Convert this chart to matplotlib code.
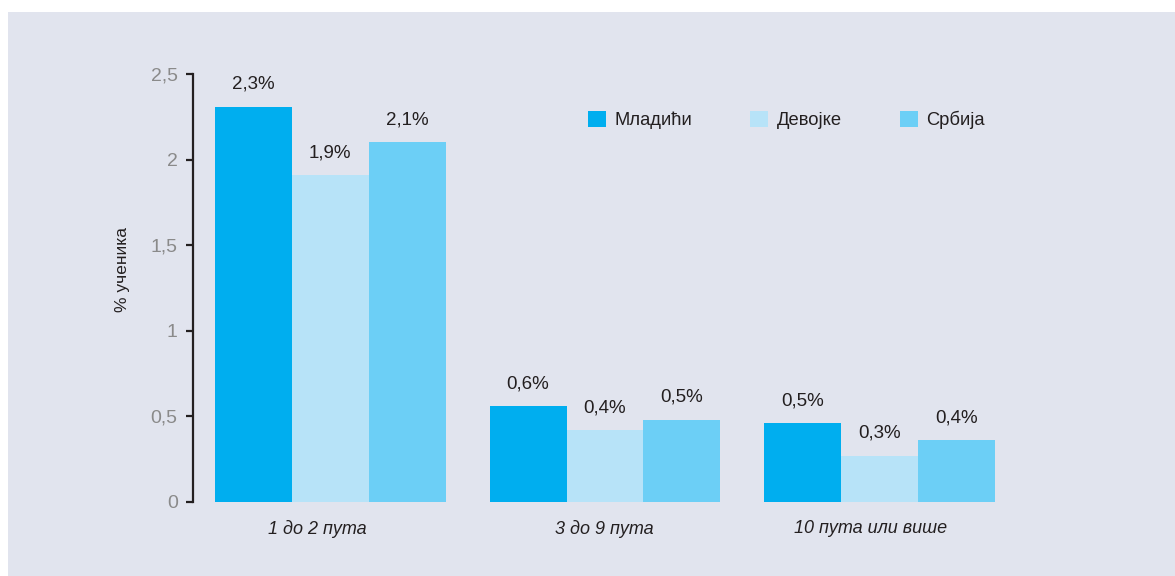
import matplotlib.pyplot as plt
import numpy as np
from matplotlib.patches import Rectangle

plt.rcParams['font.family'] = ['Liberation Sans', 'DejaVu Sans']

categories = ['1 до 2 пута', '3 до 9 пута', '10 пута или више']
series = ['Младићи', 'Девојке', 'Србија']
mladici = [2.31, 0.56, 0.46]
devojke = [1.91, 0.42, 0.27]
srbija = [2.10, 0.48, 0.36]
colors = ['#00AEEF', '#B7E3F8', '#6CCFF6']
yticks = [0, 0.5, 1, 1.5, 2, 2.5]
ytick_labels = ['0', '0,5', '1', '1,5', '2', '2,5']

bg = '#E1E4EE'
dark = '#231F20'

fig = plt.figure(figsize=(11.75, 5.76), dpi=100, facecolor='white')
# shaded panel behind the chart
fig.patches.append(Rectangle((8 / 1175, 0), 1 - 8 / 1175, 1 - 12 / 576,
                             transform=fig.transFigure, facecolor=bg,
                             edgecolor='none', zorder=-10))

ax = fig.add_axes([193 / 1175, 74 / 576, 824 / 1175, 428 / 576])
ax.set_facecolor('none')

x = np.arange(len(categories))
w = 0.28
for i, (vals, name) in enumerate(zip([mladici, devojke, srbija], series)):
    pos = x + (i - 1) * w
    ax.bar(pos, vals, width=w, color=colors[i], label=name, linewidth=0)
    for px, v in zip(pos, vals):
        ax.annotate(f'{v:.1f}%'.replace('.', ','), (px, v), xytext=(0, 10),
                    textcoords='offset points', ha='center', va='bottom',
                    fontsize=13.5, color=dark)

ax.set_xlim(-0.5, 2.5)
ax.set_ylim(0, 2.5)
ax.set_yticks(yticks)
ax.set_yticklabels(ytick_labels)
# category labels sit slightly left of the group centres (ticks are hidden)
ax.set_xticks(x + np.array([-0.048, -0.004, -0.034]))
ax.set_xticklabels(categories, fontsize=13, style='italic', color=dark)

for s in ['top', 'right', 'bottom']:
    ax.spines[s].set_visible(False)
ax.spines['left'].set_color(dark)
ax.spines['left'].set_linewidth(1.6)
ax.tick_params(axis='y', length=5, width=1.6, color=dark, labelcolor='#8A8A8A',
               labelsize=14, pad=6)
ax.tick_params(axis='x', length=0, pad=13)

ax.set_ylabel('% ученика', fontsize=12.5, color=dark)
ax.yaxis.set_label_coords((130 - 193) / 824, (502 - 270) / 428)

ax.legend(loc='center left', bbox_to_anchor=((588 - 193) / 824, (502 - 120) / 428),
          ncol=3, frameon=False, fontsize=13.2, handlelength=1, handleheight=1,
          handletextpad=0.45, columnspacing=3.15, borderpad=0, borderaxespad=0,
          labelcolor=dark)

plt.savefig('out.png', dpi=100, facecolor='white')
